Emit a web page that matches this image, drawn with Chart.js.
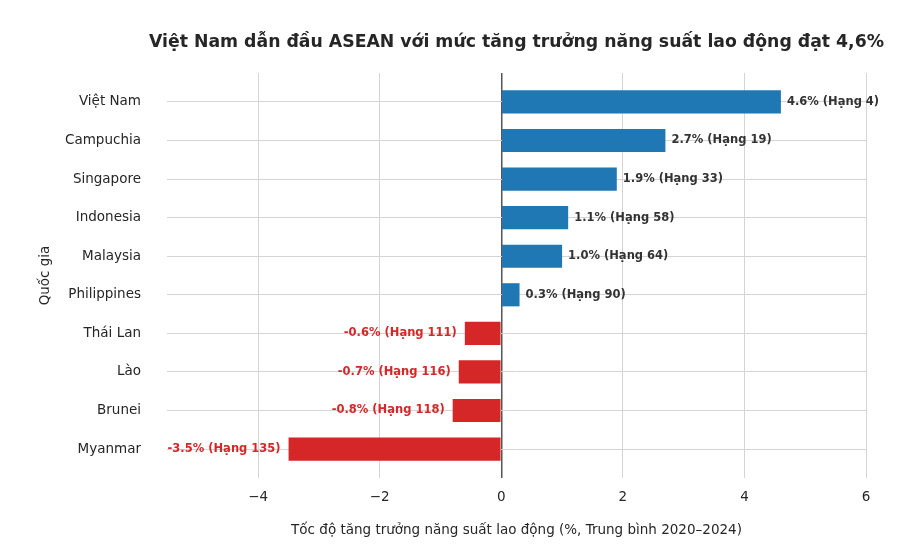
<!DOCTYPE html>
<html lang="vi">
<head>
    <meta charset="UTF-8">
    <title>Tăng trưởng năng suất lao động ASEAN</title>
    <style>
        body {
            margin: 0;
            padding: 0;
            background: #fff;
        }
        #wrap {
            width: 917px;
            height: 557px;
        }
    </style>
</head>
<body>
    <div id="wrap">
        <canvas id="chart" width="917" height="557"></canvas>
    </div>

    <script src="https://cdn.jsdelivr.net/npm/chart.js"></script>
    <script>
        // Data
        const countries = ['Việt Nam', 'Campuchia', 'Singapore', 'Indonesia', 'Malaysia',
                           'Philippines', 'Thái Lan', 'Lào', 'Brunei', 'Myanmar'];
        const growth = [4.6, 2.7, 1.9, 1.1, 1.0, 0.3, -0.6, -0.7, -0.8, -3.5];
        const ranks = [4, 19, 33, 58, 64, 90, 111, 116, 118, 135];
        const xTicks = [-4, -2, 0, 2, 4, 6];

        const TITLE = 'Việt Nam dẫn đầu ASEAN với mức tăng trưởng năng suất lao động đạt 4,6%';
        const BLUE = '#1f77b4';
        const RED = '#d62728';
        const TEXT = '#262626';
        const FONT = "'DejaVu Sans', sans-serif";

        // Value labels at the bar ends, plus the title centred over the plot
        // (the built-in title gets squeezed to the chart area width)
        const barLabels = {
            id: 'barLabels',
            afterDatasetsDraw(chart) {
                const ctx = chart.ctx;
                const meta = chart.getDatasetMeta(0);
                ctx.save();
                ctx.font = 'bold 11.5px ' + FONT;
                ctx.textBaseline = 'middle';
                meta.data.forEach((bar, i) => {
                    const v = growth[i];
                    const text = v.toFixed(1) + '% (Hạng ' + ranks[i] + ')';
                    if (v >= 0) {
                        ctx.fillStyle = '#333333';
                        ctx.textAlign = 'left';
                        ctx.fillText(text, bar.x + 6, bar.y);
                    } else {
                        ctx.fillStyle = RED;
                        ctx.textAlign = 'right';
                        ctx.fillText(text, bar.x - 8, bar.y);
                    }
                });

                const area = chart.chartArea;
                ctx.font = 'bold 17.3px ' + FONT;
                ctx.fillStyle = TEXT;
                ctx.textAlign = 'center';
                ctx.fillText(TITLE, (area.left + area.right) / 2, 43);
                ctx.restore();
            }
        };

        new Chart(document.getElementById('chart'), {
            type: 'bar',
            data: {
                datasets: [{
                    data: growth.map((v, i) => ({ x: v, y: i })),
                    backgroundColor: growth.map(v => v >= 0 ? BLUE : RED),
                    borderWidth: 0,
                    barPercentage: 0.6,
                    categoryPercentage: 1.0
                }]
            },
            options: {
                indexAxis: 'y',
                responsive: false,
                animation: false,
                layout: {
                    padding: { left: 0, right: 51, top: 73, bottom: 0 }
                },
                plugins: {
                    legend: { display: false },
                    tooltip: { enabled: false },
                    title: { display: false }
                },
                scales: {
                    x: {
                        type: 'linear',
                        min: -5.5,
                        max: 6,
                        border: { display: false },
                        grid: {
                            drawTicks: false,
                            color: ctx => ctx.tick && ctx.tick.value === 0 ? '#555555' : '#d4d4d4',
                            lineWidth: ctx => ctx.tick && ctx.tick.value === 0 ? 1.5 : 1
                        },
                        afterBuildTicks: scale => {
                            scale.ticks = xTicks.map(v => ({ value: v }));
                        },
                        ticks: {
                            padding: 11,
                            color: TEXT,
                            font: { family: FONT, size: 13.5 },
                            callback: v => String(v).replace('-', '\u2212')
                        },
                        title: {
                            display: true,
                            text: 'Tốc độ tăng trưởng năng suất lao động (%, Trung bình 2020–2024)',
                            color: TEXT,
                            font: { family: FONT, size: 13.5 },
                            padding: { top: 0, bottom: 18 }
                        },
                        afterFit: scale => { scale.height = 79; }
                    },
                    y: {
                        type: 'linear',
                        min: -0.75,
                        max: 9.75,
                        reverse: true,
                        offset: false,
                        border: { display: false },
                        grid: {
                            offset: false,
                            drawTicks: false,
                            color: '#d4d4d4',
                            lineWidth: 1
                        },
                        afterBuildTicks: scale => {
                            scale.ticks = countries.map((c, i) => ({ value: i }));
                        },
                        ticks: {
                            autoSkip: false,
                            padding: 26,
                            color: TEXT,
                            font: { family: FONT, size: 13.5 },
                            callback: v => countries[v]
                        },
                        title: {
                            display: true,
                            text: 'Quốc gia',
                            color: TEXT,
                            font: { family: FONT, size: 13.5 },
                            padding: { top: 37, bottom: 0 }
                        },
                        afterFit: scale => { scale.width = 167; }
                    }
                }
            },
            plugins: [barLabels]
        });
    </script>
</body>
</html>
